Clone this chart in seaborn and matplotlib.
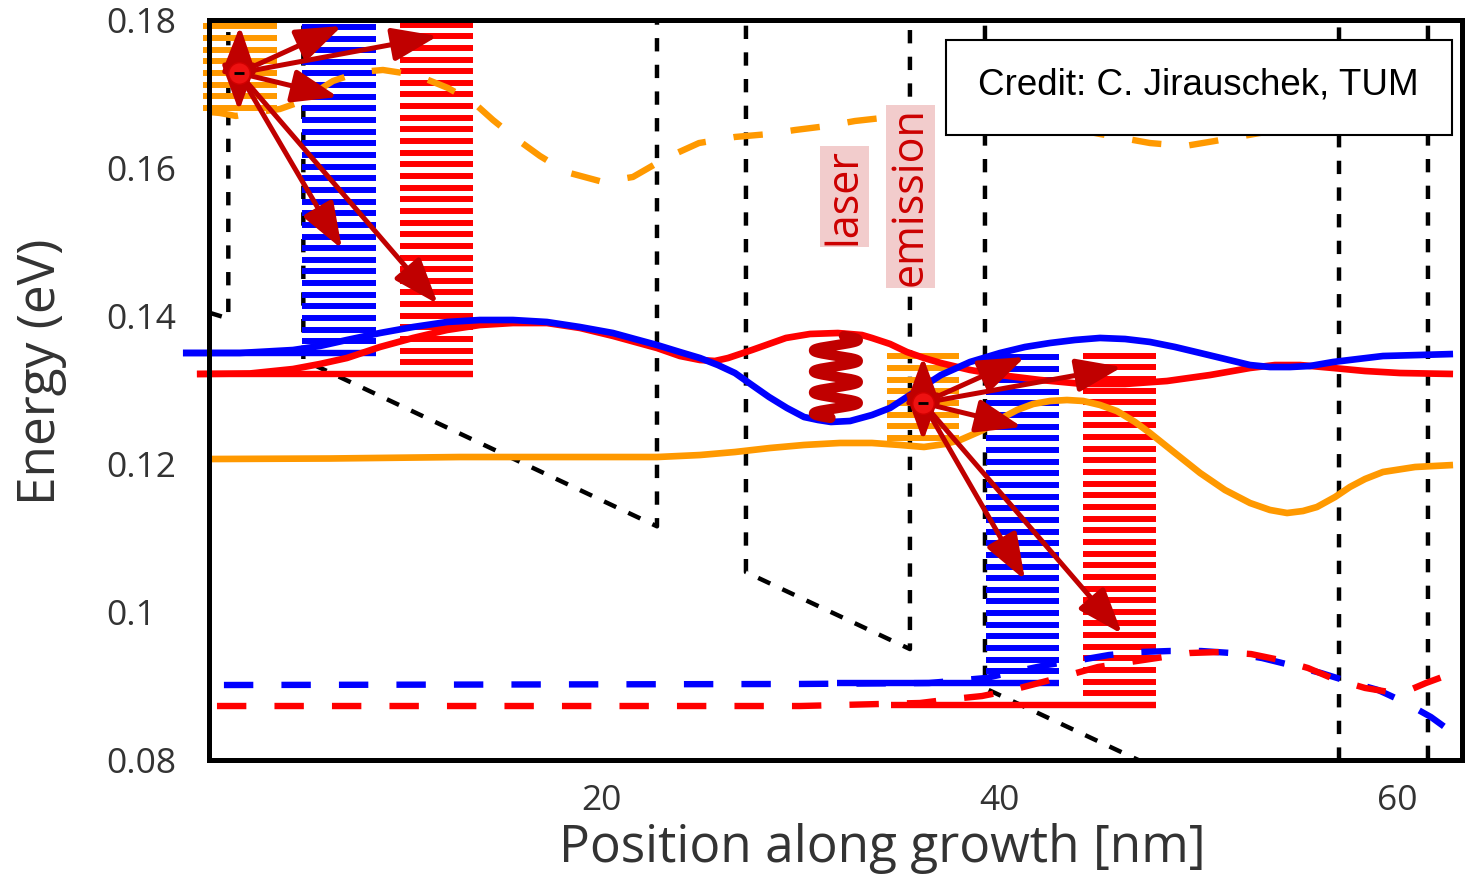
import numpy as np
import matplotlib
matplotlib.use("Agg")
import matplotlib.pyplot as plt
import seaborn as sns
from matplotlib.patches import FancyArrowPatch, Rectangle

# ---------------- data (position in nm, energy in eV) ----------------
cb_pos = [0.28, 1.25, 1.25, 5.02, 5.02, 22.79, 22.79, 27.26, 27.26, 35.50,
          35.50, 39.27, 39.27, 57.06, 57.06, 61.53, 61.53, 63.24]
cb_energy = [0.1405, 0.1397, 0.30, 0.30, 0.1341, 0.1116, 0.30, 0.30, 0.1054, 0.0950,
             0.30, 0.30, 0.0897, 0.0673, 0.30, 0.30, 0.0616, 0.0594]

blue_pos = [-1.03, 1.83, 4.50, 5.85, 7.21, 8.87, 10.53, 12.24, 13.89, 15.55, 17.26, 18.92,
            20.58, 21.68, 22.79, 23.94, 24.95, 25.85, 26.71, 27.56, 28.42, 29.32, 30.18,
            30.88, 31.53, 32.49, 33.59, 34.50, 35.35, 36.21, 37.06, 38.52, 40.03, 41.28,
            42.54, 43.79, 45.05, 46.31, 47.56, 48.82, 50.08, 51.33, 52.59, 53.59, 54.60,
            55.60, 56.76, 58.02, 59.27, 61.13, 62.79]
blue_energy = [0.13504, 0.13504, 0.13544, 0.13598, 0.13680, 0.13774, 0.13855, 0.13923,
               0.13950, 0.13950, 0.13923, 0.13855, 0.13774, 0.13693, 0.13612, 0.13517,
               0.13436, 0.13341, 0.13233, 0.13071, 0.12909, 0.12760, 0.12638, 0.12598,
               0.12571, 0.12584, 0.12665, 0.12760, 0.12909, 0.13058, 0.13206, 0.13382,
               0.13504, 0.13585, 0.13639, 0.13680, 0.13707, 0.13693, 0.13653, 0.13585,
               0.13504, 0.13423, 0.13341, 0.13314, 0.13314, 0.13328, 0.13382, 0.13423,
               0.13463, 0.13477, 0.13490]

red_pos = [-0.33, 2.34, 4.50, 5.85, 7.21, 8.87, 10.53, 12.24, 13.89, 15.55, 17.26, 18.92,
           20.58, 21.68, 22.79, 23.94, 24.95, 25.70, 26.36, 27.56, 29.27, 30.48, 31.88,
           33.09, 33.59, 34.50, 35.35, 36.21, 37.06, 38.52, 40.03, 42.04, 44.20, 46.31,
           48.42, 50.58, 52.59, 53.84, 55.10, 56.76, 58.37, 60.13, 62.79]
red_energy = [0.13220, 0.13227, 0.13287, 0.13355, 0.13436, 0.13585, 0.13707, 0.13815,
              0.13882, 0.13909, 0.13909, 0.13842, 0.13734, 0.13653, 0.13571, 0.13463,
              0.13409, 0.13396, 0.13436, 0.13544, 0.13707, 0.13761, 0.13774, 0.13747,
              0.13707, 0.13626, 0.13517, 0.13436, 0.13368, 0.13274, 0.13206, 0.13139,
              0.13085, 0.13085, 0.13125, 0.13206, 0.13301, 0.13341, 0.13341, 0.13301,
              0.13260, 0.13233, 0.13220]

orange_pos = [0.28, 6.36, 12.89, 17.91, 22.79, 24.95, 26.71, 28.47, 30.18, 31.98, 33.59,
              34.99, 36.21, 37.26, 38.02, 39.17, 40.03, 40.88, 41.69, 42.54, 43.39, 44.20,
              45.05, 45.90, 46.81, 47.56, 48.82, 50.08, 51.33, 52.59, 53.59, 54.45, 55.25,
              55.95, 56.86, 57.61, 58.37, 59.27, 60.88, 62.79]
orange_energy = [0.12070, 0.12077, 0.12097, 0.12097, 0.12097, 0.12124, 0.12165, 0.12219,
                 0.12260, 0.12287, 0.12287, 0.12260, 0.12233, 0.12273, 0.12327, 0.12462,
                 0.12611, 0.12733, 0.12814, 0.12855, 0.12868, 0.12855, 0.12801, 0.12719,
                 0.12571, 0.12422, 0.12151, 0.11881, 0.11651, 0.11475, 0.11381, 0.11340,
                 0.11367, 0.11421, 0.11556, 0.11692, 0.11800, 0.11895, 0.11962, 0.11989]

orange_up_pos = [0.28, 0.83, 1.63, 2.44, 3.84, 4.85, 6.51, 7.86, 9.02, 10.68, 12.29, 13.54,
                 14.55, 15.80, 16.91, 18.22, 20.08, 21.58, 23.24, 24.90, 26.71, 28.42,
                 29.72, 31.33, 32.74, 35.00, 37.51, 40.03, 42.54, 45.05, 47.56, 49.32,
                 50.83, 53.09, 56.10, 60.13, 62.89]
orange_up_energy = [0.16763, 0.16749, 0.16709, 0.16749, 0.16803, 0.16898, 0.17182, 0.17304,
                    0.17331, 0.17263, 0.17087, 0.16898, 0.16654, 0.16384, 0.16168, 0.15951,
                    0.15816, 0.15884, 0.16141, 0.16343, 0.16425, 0.16465, 0.16519, 0.16573,
                    0.16641, 0.16709, 0.16749, 0.16709, 0.16600, 0.16465, 0.16343, 0.16303,
                    0.16371, 0.16479, 0.16587, 0.16668, 0.16736]

blue_low_pos = [1.03, 29.97, 36.46, 39.32, 40.43, 42.39, 44.05, 45.50, 47.01, 48.57, 50.13,
                51.64, 53.19, 54.60, 56.16, 57.61, 59.02, 60.33, 61.68, 62.79]
blue_low_energy = [0.09014, 0.09028, 0.09041, 0.09109, 0.09176, 0.09285, 0.09352, 0.09420,
                   0.09460, 0.09474, 0.09474, 0.09447, 0.09379, 0.09285, 0.09176, 0.09055,
                   0.08947, 0.08784, 0.08581, 0.08365]

red_low_pos = [0.68, 29.97, 36.01, 37.66, 39.12, 40.63, 41.98, 43.49, 44.95, 46.56, 47.91,
               49.57, 51.08, 52.64, 54.10, 55.50, 56.81, 58.37, 59.45, 60.50, 61.43, 62.79]
red_low_energy = [0.08730, 0.08730, 0.08771, 0.08825, 0.08865, 0.08947, 0.09041, 0.09149,
                  0.09258, 0.09325, 0.09379, 0.09447, 0.09460, 0.09433, 0.09352, 0.09244,
                  0.09095, 0.08974, 0.08925, 0.08935, 0.09041, 0.09176]

# in-plane kinetic energy ladders
level_step = 0.001575
ladder_xmin = [-0.03, 4.95, 9.87, 34.35, 39.32, 44.19]
ladder_xmax = [3.69, 8.67, 13.54, 37.97, 42.99, 47.86]
ladder_emin = [0.16817, 0.13504, 0.13220, 0.12354, 0.09041, 0.08744]
ladder_count = [8, 29, 31, 8, 29, 31]
ladder_color = ["#FF9900", "#0000FF", "#FF0000", "#FF9900", "#0000FF", "#FF0000"]
# subband-minimum lines running into the ladders
base_xmin = [-1.03, -0.33, 31.84, 34.55]
base_xmax = [8.67, 13.54, 42.99, 47.86]
base_energy = [0.13504, 0.13220, 0.09041, 0.08744]
base_color = ["#0000FF", "#FF0000", "#0000FF", "#FF0000"]

# scattering arrows
electron_pos = [1.784, 36.16]
electron_energy = [0.17290, 0.12828]
arrow_dx = [[1.834, 1.784, 6.96, 11.78, 6.76, 6.96, 11.78],
            [36.16, 36.16, 41.28, 46.16, 41.13, 41.28, 46.16]]
arrow_dy = [[0.17926, 0.16776, 0.17926, 0.17790, 0.16966, 0.14910, 0.14166],
            [0.13450, 0.12314, 0.13450, 0.13314, 0.12503, 0.10434, 0.09704]]

x_ticks = [20, 40, 60]
y_ticks = [0.08, 0.1, 0.12, 0.14, 0.16, 0.18]
y_tick_labels = ["0.08", "0.1", "0.12", "0.14", "0.16", "0.18"]

# ---------------- figure ----------------
sns.set_theme(style="white")
plt.rcParams["font.family"] = ["Open Sans", "DejaVu Sans"]

fig = plt.figure(figsize=(14.67, 8.76), dpi=100)
ax = fig.add_axes([0.14247, 0.13242, 0.85412, 0.84418])

BLUE, RED, ORANGE, DARKRED = "#0000FF", "#FF0000", "#FF9900", "#C00000"


def curve(x, y, color, ls="-", lw=4.8, clip=True, z=3):
    sns.lineplot(x=x, y=y, ax=ax, color=color, linewidth=lw, linestyle=ls,
                 sort=False, estimator=None, legend=False, zorder=z)
    ln = ax.lines[-1]
    ln.set_clip_on(clip)
    ln.set_solid_capstyle("butt")
    ln.set_dash_capstyle("butt")
    ln.set_solid_joinstyle("round")
    return ln


# conduction band edge
curve(cb_pos, cb_energy, "black", ls=(0, (3.0, 3.0)), lw=3.2, z=1)

# ladders
for xa, xb, e0, n, c in zip(ladder_xmin, ladder_xmax, ladder_emin, ladder_count, ladder_color):
    levels = e0 + level_step * np.arange(n)
    lc = ax.hlines(levels, xa, xb, colors=c, linewidth=4.3, zorder=2)
    lc.set_clip_on(False)
for xa, xb, e0, c in zip(base_xmin, base_xmax, base_energy, base_color):
    lc = ax.hlines([e0], xa, xb, colors=c, linewidth=4.6, zorder=2)
    lc.set_clip_on(False)

# subband curves
curve(orange_up_pos, orange_up_energy, ORANGE, ls=(0, (4.6, 4.4)), lw=4.6)
curve(blue_low_pos, blue_low_energy, BLUE, ls=(0, (4.6, 4.4)), lw=4.6)
curve(red_low_pos, red_low_energy, RED, ls=(0, (4.6, 4.4)), lw=4.6)
curve(orange_pos, orange_energy, ORANGE)
curve(red_pos, red_energy, RED, clip=False)
curve(blue_pos, blue_energy, BLUE, clip=False)

# arrows and electrons
for k in range(2):
    for xt, yt in zip(arrow_dx[k], arrow_dy[k]):
        arr = FancyArrowPatch((electron_pos[k], electron_energy[k]), (xt, yt),
                              arrowstyle="-|>,head_length=0.9,head_width=0.33",
                              mutation_scale=31, linewidth=3.6, color=DARKRED,
                              shrinkA=0, shrinkB=0, zorder=8)
        ax.add_patch(arr)
ax.scatter(electron_pos, electron_energy, s=240, color="#EE1111",
           edgecolor="#D00000", linewidth=1.0, zorder=9)
ax.scatter(electron_pos, electron_energy, s=60, marker="_", color="black",
           linewidth=2.0, zorder=10)

# photon (wiggly line)
t = np.linspace(1.2, 25.7, 500)
ph_x = 31.78 + 1.1 * np.sin(t - 0.82)
ph_y = 0.13788 - 0.00284 * t / (2 * np.pi)
ax.plot(ph_x, ph_y, color=DARKRED, linewidth=7.5, solid_capstyle="round", zorder=7)

# labels in plot
ax.text(32.21, 0.1562, "laser", rotation=90, color="#CC0000", fontsize=31,
        ha="center", va="center", zorder=6,
        bbox=dict(boxstyle="square,pad=0.05", fc="#F2CCCC", ec="none"))
ax.text(35.53, 0.1562, "emission", rotation=90, color="#CC0000", fontsize=31,
        ha="center", va="center", zorder=6,
        bbox=dict(boxstyle="square,pad=0.05", fc="#F2CCCC", ec="none"))

ax.add_patch(Rectangle((37.31, 0.16452), 25.43, 0.01284, fc="white", ec="black",
                       linewidth=1.5, zorder=11))
ax.text(50.0, 0.16993, "Credit: C. Jirauschek, TUM", fontsize=26.5,
        family=["Liberation Sans", "DejaVu Sans"], color="black",
        ha="center", va="baseline", zorder=12)

# axes
ax.set_xlim(0.28, 63.24)
ax.set_ylim(0.08, 0.18)
ax.set_xticks(x_ticks)
ax.set_xticklabels([str(v) for v in x_ticks])
ax.set_yticks(y_ticks)
ax.set_yticklabels(y_tick_labels)
ax.tick_params(axis="both", length=0, labelsize=25.5, labelcolor="#333333")
ax.tick_params(axis="x", pad=17)
ax.tick_params(axis="y", pad=74)
for lab in ax.get_yticklabels():
    lab.set_horizontalalignment("left")
for sp in ax.spines.values():
    sp.set_visible(True)
    sp.set_color("black")
    sp.set_linewidth(3.6)
    sp.set_zorder(5)
ax.grid(False)
ax.set_xlabel("")
ax.set_ylabel("")

fig.text(882 / 1467, 1 - 862 / 876, "Position along growth [nm]", fontsize=37,
         color="#333333", ha="center", va="baseline")
fig.text(55 / 1467, 1 - 372 / 876, "Energy (eV)", fontsize=37, color="#333333",
         rotation=90, rotation_mode="anchor", ha="center", va="baseline")

fig.savefig("out.png", dpi=100)
